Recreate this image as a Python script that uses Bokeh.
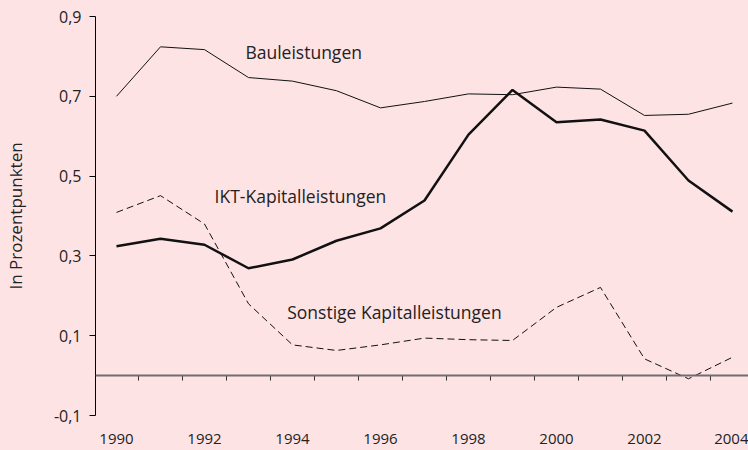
from bokeh.plotting import figure
from bokeh.models import Range1d, FixedTicker, Span, Label
from bokeh.embed import file_html
from bokeh.resources import INLINE

years = list(range(1990, 2005))
bau = [0.700, 0.824, 0.817, 0.747, 0.738, 0.714, 0.671, 0.687, 0.706, 0.704,
       0.723, 0.718, 0.652, 0.655, 0.683]
ikt = [0.324, 0.343, 0.328, 0.269, 0.291, 0.338, 0.369, 0.439, 0.604, 0.716,
       0.635, 0.642, 0.614, 0.489, 0.411]
sonst = [0.409, 0.451, 0.380, 0.180, 0.077, 0.063, 0.077, 0.094, 0.090, 0.088,
         0.171, 0.221, 0.042, -0.008, 0.046]
y_ticks = [-0.1, 0.1, 0.3, 0.5, 0.7, 0.9]
y_tick_labels = ["-0,1", "0,1", "0,3", "0,5", "0,7", "0,9"]
x_tick_years = [1990, 1992, 1994, 1996, 1998, 2000, 2002, 2004]
series_names = ["Bauleistungen", "IKT-Kapitalleistungen", "Sonstige Kapitalleistungen"]
label_x = [1992.93, 1992.23, 1993.88]
label_y = [0.812, 0.451, 0.159]

BG = "#FEE3E5"
FONT = "Open Sans"
TXT = "#222222"

p = figure(width=748, height=450, output_backend="svg", toolbar_location=None,
           x_range=Range1d(1989.523, 2004.364), y_range=Range1d(-0.1, 0.9),
           min_border_left=95, min_border_right=0, min_border_top=16, min_border_bottom=35)
p.background_fill_color = BG
p.border_fill_color = BG
p.outline_line_color = None
p.xgrid.grid_line_color = None
p.ygrid.grid_line_color = None

# y axis
ya = p.yaxis[0]
ya.ticker = FixedTicker(ticks=y_ticks)
ya.major_label_overrides = {t: l for t, l in zip(y_ticks, y_tick_labels)}
ya.axis_line_color = "black"
ya.major_tick_line_color = "black"
ya.major_tick_out = 6
ya.major_tick_in = 0
ya.minor_tick_line_color = None
ya.major_label_standoff = 8
ya.major_label_text_font = FONT
ya.major_label_text_font_size = "16px"
ya.major_label_text_color = TXT
ya.axis_label = "In Prozentpunkten"
ya.axis_label_text_font = FONT
ya.axis_label_text_font_size = "17px"
ya.axis_label_text_font_style = "normal"
ya.axis_label_text_color = TXT
ya.axis_label_standoff = 24

# x axis (labels only)
xa = p.xaxis[0]
xa.ticker = FixedTicker(ticks=x_tick_years)
xa.axis_line_color = None
xa.major_tick_line_color = None
xa.minor_tick_line_color = None
xa.major_label_standoff = 12
xa.major_label_text_font = FONT
xa.major_label_text_font_size = "15px"
xa.major_label_text_color = TXT

# zero line with half-year ticks
p.add_layout(Span(location=0, dimension="width", line_color="#6e6e6e", line_width=2))
half = [y + 0.5 for y in years]
p.segment(x0=half, y0=[0] * len(half), x1=half, y1=[-0.0125] * len(half),
          line_color="#333333", line_width=1)

p.line(years, bau, line_color="#111111", line_width=1)
p.line(years, ikt, line_color="#111111", line_width=2.5)
p.line(years, sonst, line_color="#111111", line_width=1, line_dash="7 4")

for name, x, y in zip(series_names, label_x, label_y):
    p.add_layout(Label(x=x, y=y, text=name, text_font=FONT, text_font_size="17.5px",
                       text_color=TXT, text_baseline="middle", text_align="left"))

html = file_html(p, INLINE)
html = html.replace("<head>", "<head><style>html,body{background:%s;}</style>" % BG, 1)
open("out.html", "w").write(html)
